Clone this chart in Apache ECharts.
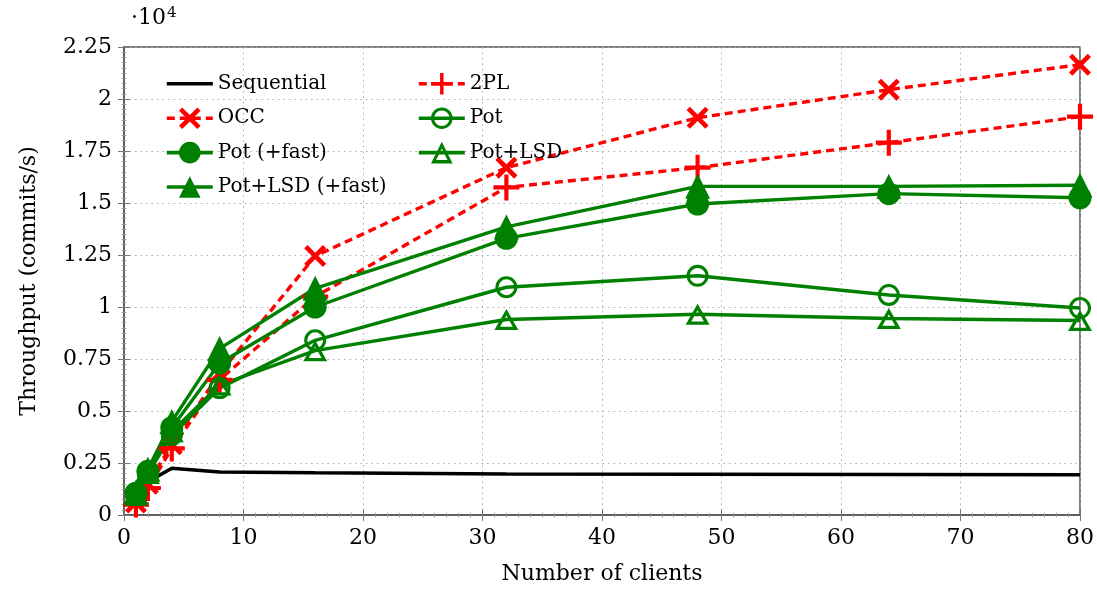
<!DOCTYPE html>
<html><head><meta charset="utf-8">
<script src="https://cdn.jsdelivr.net/npm/echarts@6/dist/echarts.min.js"></script>
<style>html,body{margin:0;padding:0;background:#fff}#c{width:1097px;height:594px}</style>
</head><body><div id="c"></div>
<script>
const clients = [1, 2, 4, 8, 16, 32, 48, 64, 80];
const sequential = [900, 1600, 2250, 2070, 2030, 1970, 1960, 1950, 1940];
const occ = [600, 1500, 3400, 6800, 12450, 16700, 19100, 20450, 21650];
const twoPL = [500, 1300, 3200, 6500, 10500, 15750, 16700, 17900, 19150];
const pot = [950, 2000, 3850, 6100, 8400, 10950, 11500, 10580, 9950];
const potFast = [1050, 2100, 4200, 7300, 10000, 13300, 14950, 15450, 15250];
const potLsd = [950, 2000, 4000, 6250, 7900, 9400, 9650, 9450, 9350];
const potLsdFast = [1100, 2200, 4500, 8000, 10900, 13850, 15800, 15800, 15850];

const F = 'DejaVu Serif';
const GREEN = '#008000', RED = '#ff0000';
const X_PATH = 'path://M0,1.5 L1.5,0 L5,3.5 L8.5,0 L10,1.5 L6.5,5 L10,8.5 L8.5,10 L5,6.5 L1.5,10 L0,8.5 L3.5,5 Z';
const PLUS_PATH = 'path://M4.2,0 H5.8 V4.2 H10 V5.8 H5.8 V10 H4.2 V5.8 H0 V4.2 H4.2 Z';
const RING_PATH = 'path://M0,10 A10,10 0 1,0 20,10 A10,10 0 1,0 0,10 Z M2.8,10 A7.2,7.2 0 1,1 17.2,10 A7.2,7.2 0 1,1 2.8,10 Z';
const TRI_OUT_PATH = 'path://M10,0 L20,17.3 L0,17.3 Z M10,5.4 L4.7,14.6 L15.3,14.6 Z';

function pairs(ys){ return clients.map((x,i)=>[x, ys[i]]); }
function mk(name, ys, color, symbol, size, dashed, extra){
  return Object.assign({
    name, type:'line', data: pairs(ys), symbol, symbolSize: size,
    lineStyle:{color, width:3.4, type: dashed ? [8,5] : 'solid'},
    itemStyle:{color},
    animation:false, z:2
  }, extra||{});
}

const chart = echarts.init(document.getElementById('c'));
const tickStyle = {show:true, inside:true, length:6, lineStyle:{color:'#777', width:1}};
const minorStyle = {show:true, splitNumber:10, length:2.5, lineStyle:{color:'#999', width:0.8}};
const split = {show:true, lineStyle:{color:'#aaa', type:[1.5,4], width:1}};
const legText = {fontFamily:F, fontSize:20, color:'#000'};
const legCommon = {orient:'vertical', top:68, itemWidth:46, itemHeight:27, itemGap:12.8,
  textStyle:legText, selectedMode:false, lineStyle:{width:3.6}};
chart.setOption({
  animation:false,
  grid:{left:124, top:47, right:17, bottom:79, show:true, borderColor:'#555', borderWidth:1.5},
  graphic:[{type:'text', left:131, top:6, style:{
    text:'·10{s|4}', font:'22px "DejaVu Serif"', fill:'#000',
    rich:{s:{fontSize:15, fontFamily:F, verticalAlign:'bottom', padding:[0,0,10,1]}}
  }}],
  xAxis:[{
    type:'value', min:0, max:80, interval:10,
    name:'Number of clients', nameLocation:'middle', nameGap:48,
    nameTextStyle:{fontFamily:F, fontSize:22, color:'#000'},
    axisLine:{show:true, lineStyle:{color:'#555', width:1.5}},
    axisTick:tickStyle, minorTick:minorStyle, splitLine:split,
    axisLabel:{fontFamily:F, fontSize:22, color:'#000', margin:12}
  },{
    type:'value', min:0, max:80, interval:10, position:'top',
    axisLine:{show:false}, axisTick:tickStyle, minorTick:minorStyle,
    splitLine:{show:false}, axisLabel:{show:false}
  }],
  yAxis:[{
    type:'value', min:0, max:22500, interval:2500,
    name:'Throughput (commits/s)', nameLocation:'middle', nameGap:84,
    nameTextStyle:{fontFamily:F, fontSize:22, color:'#000'},
    axisLine:{show:true, lineStyle:{color:'#555', width:1.5}},
    axisTick:tickStyle, minorTick:minorStyle, splitLine:split,
    axisLabel:{fontFamily:F, fontSize:22, color:'#000', margin:12,
      formatter:v=>String(+(v/10000).toFixed(2))}
  },{
    type:'value', min:0, max:22500, interval:2500, position:'right',
    axisLine:{show:false}, axisTick:tickStyle, minorTick:minorStyle,
    splitLine:{show:false}, axisLabel:{show:false}
  }],
  legend:[Object.assign({
    data:[{name:'Sequential', itemStyle:{opacity:0}},'OCC','Pot (+fast)','Pot+LSD (+fast)'],
    left:160
  }, legCommon), Object.assign({
    data:['2PL','Pot','Pot+LSD'],
    left:412
  }, legCommon)],
  series:[
    mk('Sequential', sequential, '#000', 'none', 0, false, {lineStyle:{color:'#000', width:3.5}}),
    mk('OCC', occ, RED, X_PATH, 22, true),
    mk('2PL', twoPL, RED, PLUS_PATH, 26, true),
    mk('Pot (+fast)', potFast, GREEN, 'circle', 23, false),
    mk('Pot+LSD (+fast)', potLsdFast, GREEN, 'triangle', 25, false),
    mk('Pot', pot, GREEN, RING_PATH, 22, false),
    mk('Pot+LSD', potLsd, GREEN, TRI_OUT_PATH, [24, 21], false)
  ]
});
</script></body></html>
